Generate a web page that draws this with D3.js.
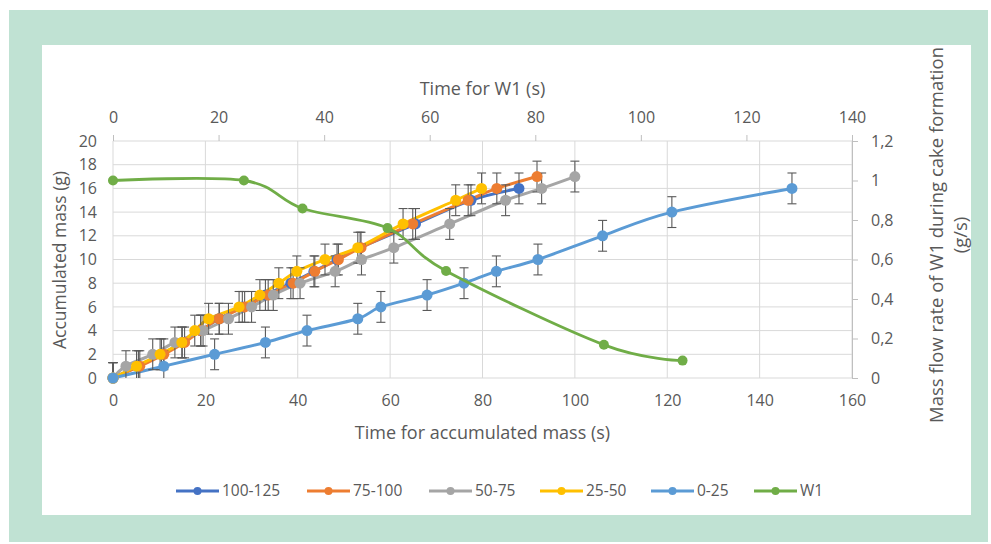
<!DOCTYPE html>
<html>
<head>
<meta charset="utf-8">
<script src="https://cdn.jsdelivr.net/npm/d3@7"></script>
<style>
  body { margin: 0; background: #fff; }
  text { font-family: "Open Sans", sans-serif; fill: #595959; }
</style>
</head>
<body>
<div id="chart"></div>
<script>
// series values (time in s, accumulated mass in g)
const seriesNames = ["100-125", "75-100", "50-75", "25-50", "0-25"];
const seriesColors = ["#4472c4", "#ed7d31", "#a5a5a5", "#ffc000", "#5b9bd5"];

const time100 = [0, 5.5, 10.5, 15, 19, 23, 28, 33, 38.5, 43.5, 48.5, 53.5, 65.5, 77.5, 87.9];
const mass100 = [0, 1, 2, 3, 4, 5, 6, 7, 8, 9, 10, 11, 13, 15, 16];

const time75 = [0, 5.8, 11, 15.5, 19, 23, 28.5, 33.6, 39, 43.7, 48.8, 53.7, 64.9, 76.9, 83.1, 91.8];
const mass75 = [0, 1, 2, 3, 4, 5, 6, 7, 8, 9, 10, 11, 13, 15, 16, 17];

const time50 = [0, 2.8, 8.6, 13.4, 19.5, 25, 30, 34.7, 40.5, 48.1, 53.8, 60.8, 72.9, 85, 92.8, 100];
const mass50 = [0, 1, 2, 3, 4, 5, 6, 7, 8, 9, 10, 11, 13, 15, 16, 17];

const time25 = [0, 5.1, 10.2, 14.9, 17.7, 20.7, 27.3, 31.8, 35.9, 39.8, 45.9, 53, 62.8, 74.2, 79.8];
const mass25 = [0, 1, 2, 3, 4, 5, 6, 7, 8, 9, 10, 11, 13, 15, 16];

const time0 = [0, 11, 22, 33, 42, 53, 58, 68, 76, 83, 92, 106, 121, 147];
const mass0 = [0, 1, 2, 3, 4, 5, 6, 7, 8, 9, 10, 12, 14, 16];

const errMass = 1.3;

// W1 on the secondary axes
const timeW1 = [0, 24.8, 35.9, 52, 63.1, 93, 107.9];
const flowW1 = [1.0, 1.0, 0.858, 0.759, 0.542, 0.168, 0.088];

const massTicks = [0, 2, 4, 6, 8, 10, 12, 14, 16, 18, 20];
const timeTicks = [0, 20, 40, 60, 80, 100, 120, 140, 160];
const timeW1Ticks = [0, 20, 40, 60, 80, 100, 120, 140];
const flowTicks = [0, 0.2, 0.4, 0.6, 0.8, 1, 1.2];

const svgWidth = 991;
const svgHeight = 544;
const plot = { left: 113, right: 852, top: 141, bottom: 378 };

const svg = d3.select("#chart")
  .append("svg")
  .attr("width", svgWidth)
  .attr("height", svgHeight);

// green frame and white panel
svg.append("rect")
  .attr("x", 9).attr("y", 10)
  .attr("width", 979).attr("height", 532)
  .attr("fill", "#c0e2d3");
svg.append("rect")
  .attr("x", 42).attr("y", 45)
  .attr("width", 929).attr("height", 470)
  .attr("fill", "#fff");

// scales
const x = d3.scaleLinear().domain([0, 160]).range([plot.left, plot.right]);
const xTop = d3.scaleLinear().domain([0, 140]).range([plot.left, plot.right]);
const y = d3.scaleLinear().domain([0, 20]).range([plot.bottom, plot.top]);
const yRight = d3.scaleLinear().domain([0, 1.2]).range([plot.bottom, plot.top]);

const fmtComma = d => String(d).replace(".", ",");

// gridlines
const grid = svg.append("g");
grid.selectAll(".hgrid")
  .data(massTicks)
  .enter()
  .append("line")
  .attr("x1", plot.left).attr("x2", plot.right)
  .attr("y1", d => y(d)).attr("y2", d => y(d))
  .attr("stroke", "#d9d9d9")
  .attr("stroke-width", 1);
grid.selectAll(".vgrid")
  .data(timeTicks)
  .enter()
  .append("line")
  .attr("x1", d => x(d)).attr("x2", d => x(d))
  .attr("y1", plot.top).attr("y2", plot.bottom)
  .attr("stroke", "#d9d9d9")
  .attr("stroke-width", 1);

// left axis
const leftAxis = svg.append("g")
  .attr("transform", `translate(${plot.left}, 0)`)
  .call(d3.axisLeft(y).tickValues(massTicks).tickSize(0).tickPadding(16));
leftAxis.select(".domain").remove();

// bottom axis
const bottomAxis = svg.append("g")
  .attr("transform", `translate(0, ${plot.bottom})`)
  .call(d3.axisBottom(x).tickValues(timeTicks).tickSize(0).tickPadding(17));
bottomAxis.select(".domain").remove();

// top axis (W1 time)
const topAxis = svg.append("g")
  .attr("transform", `translate(0, ${plot.top})`)
  .call(d3.axisTop(xTop).tickValues(timeW1Ticks).tickSize(6).tickPadding(12));
topAxis.select(".domain").remove();
topAxis.selectAll("line").attr("stroke", "#bfbfbf");

// right axis (W1 flow rate)
const rightAxis = svg.append("g")
  .attr("transform", `translate(${plot.right}, 0)`)
  .call(d3.axisRight(yRight).tickValues(flowTicks).tickFormat(fmtComma).tickSize(6).tickPadding(13));
rightAxis.select(".domain").attr("stroke", "#bfbfbf");
rightAxis.selectAll("line").attr("stroke", "#bfbfbf");

svg.selectAll(".tick text")
  .style("font-size", "16px")
  .attr("fill", "#595959");

// axis titles
svg.append("text")
  .attr("x", (plot.left + plot.right) / 2)
  .attr("y", 439)
  .attr("text-anchor", "middle")
  .style("font-size", "18px")
  .text("Time for accumulated mass (s)");

svg.append("text")
  .attr("x", (plot.left + plot.right) / 2)
  .attr("y", 95)
  .attr("text-anchor", "middle")
  .style("font-size", "18px")
  .text("Time for W1 (s)");

svg.append("text")
  .attr("transform", "translate(66, 260) rotate(-90)")
  .attr("text-anchor", "middle")
  .style("font-size", "17.5px")
  .text("Accumulated mass (g)");

const rightTitle = svg.append("text")
  .attr("transform", "translate(943, 235) rotate(-90)")
  .attr("text-anchor", "middle")
  .style("font-size", "18.5px");
rightTitle.append("tspan")
  .attr("x", 0).attr("dy", 0)
  .text("Mass flow rate of W1 during cake formation");
rightTitle.append("tspan")
  .attr("x", 0).attr("dy", 24)
  .text("(g/s)");

// data tables for the mass series
const massData = [
  d3.zip(time100, mass100),
  d3.zip(time75, mass75),
  d3.zip(time50, mass50),
  d3.zip(time25, mass25),
  d3.zip(time0, mass0)
];

const massLine = d3.line()
  .x(d => x(d[0]))
  .y(d => y(d[1]))
  .curve(d3.curveCatmullRom.alpha(0));

svg.append("clipPath")
  .attr("id", "plotClip")
  .append("rect")
  .attr("x", plot.left - 8).attr("y", plot.top - 8)
  .attr("width", plot.right - plot.left + 16)
  .attr("height", plot.bottom - plot.top + 8);

const marks = svg.append("g");

// lines
massData.forEach((data, i) => {
  marks.append("path")
    .datum(data)
    .attr("d", massLine)
    .attr("fill", "none")
    .attr("stroke", seriesColors[i])
    .attr("stroke-width", 3);
});

// error bars
const errGroup = marks.append("g")
  .attr("clip-path", "url(#plotClip)")
  .attr("stroke", "#595959")
  .attr("stroke-width", 1.1);
massData.forEach(data => {
  data.forEach(d => {
    const cx = x(d[0]);
    const yTop = y(d[1] + errMass);
    const yBot = Math.min(y(d[1] - errMass), plot.bottom);
    errGroup.append("line")
      .attr("x1", cx).attr("x2", cx)
      .attr("y1", yTop).attr("y2", yBot);
    errGroup.append("line")
      .attr("x1", cx - 4.5).attr("x2", cx + 4.5)
      .attr("y1", yTop).attr("y2", yTop);
    if (d[1] - errMass >= 0) {
      errGroup.append("line")
        .attr("x1", cx - 4.5).attr("x2", cx + 4.5)
        .attr("y1", yBot).attr("y2", yBot);
    }
  });
});

// markers
massData.forEach((data, i) => {
  marks.append("g")
    .selectAll("circle")
    .data(data)
    .enter()
    .append("circle")
    .attr("cx", d => x(d[0]))
    .attr("cy", d => y(d[1]))
    .attr("r", 5.5)
    .attr("fill", seriesColors[i]);
});

// W1 series on secondary axes
const w1Data = d3.zip(timeW1, flowW1);
const w1Line = d3.line()
  .x(d => xTop(d[0]))
  .y(d => yRight(d[1]))
  .curve(d3.curveCatmullRom.alpha(0));

marks.append("path")
  .datum(w1Data)
  .attr("d", w1Line)
  .attr("fill", "none")
  .attr("stroke", "#70ad47")
  .attr("stroke-width", 2.8);

marks.append("g")
  .selectAll("circle")
  .data(w1Data)
  .enter()
  .append("circle")
  .attr("cx", d => xTop(d[0]))
  .attr("cy", d => yRight(d[1]))
  .attr("r", 5)
  .attr("fill", "#70ad47");

// legend
const legendNames = seriesNames.concat(["W1"]);
const legendColors = seriesColors.concat(["#70ad47"]);
const legendX = [176, 307, 429, 540, 651, 754];
const legend = svg.append("g")
  .attr("transform", "translate(0, 491)");

legendNames.forEach((name, i) => {
  const item = legend.append("g")
    .attr("transform", `translate(${legendX[i]}, 0)`);
  item.append("line")
    .attr("x1", 0).attr("x2", 43)
    .attr("y1", 0).attr("y2", 0)
    .attr("stroke", legendColors[i])
    .attr("stroke-width", 3);
  item.append("circle")
    .attr("cx", 21.5).attr("cy", 0)
    .attr("r", 4)
    .attr("fill", legendColors[i]);
  item.append("text")
    .attr("x", 46)
    .attr("y", 0)
    .attr("dy", "0.35em")
    .style("font-size", "15.5px")
    .text(name);
});
</script>
</body>
</html>
